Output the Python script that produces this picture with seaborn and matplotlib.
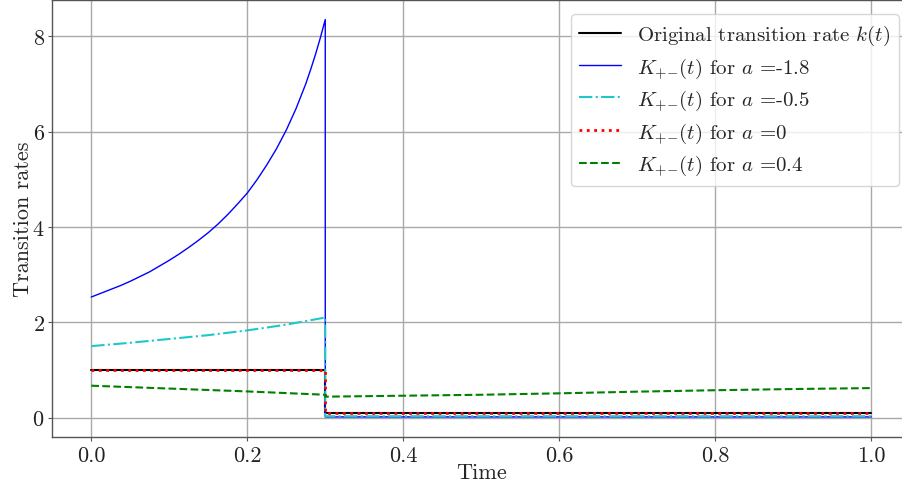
import matplotlib
matplotlib.use("Agg")
import matplotlib.pyplot as plt
import seaborn as sns

sns.set_style("whitegrid")
plt.rcParams.update({
    "font.family": "serif",
    "font.serif": ["cmr10", "DejaVu Serif"],
    "mathtext.fontset": "cm",
    "axes.formatter.use_mathtext": True,
    "axes.unicode_minus": False,
    "grid.color": "#a9a9a9",
    "grid.linewidth": 1.0,
    "axes.edgecolor": "#555555",
    "axes.linewidth": 1.0,
    "xtick.bottom": True,
    "ytick.left": True,
    "xtick.major.size": 3,
    "ytick.major.size": 3,
    "xtick.color": "#555555",
    "ytick.color": "#555555",
    "xtick.labelcolor": "#222222",
    "ytick.labelcolor": "#222222",
})

# Original transition rate k(t)
t_k = [0.0, 0.3, 0.3, 1.0]
k_vals = [1.0, 1.0, 0.1, 0.1]

# K_{+-}(t) for a = -1.8
t_blue = [0.0, 0.0125, 0.025, 0.0375, 0.05, 0.0625, 0.075, 0.0875, 0.1,
          0.1125, 0.125, 0.1375, 0.15, 0.1625, 0.175, 0.1875, 0.2, 0.2125,
          0.225, 0.2375, 0.25, 0.2625, 0.275, 0.28125, 0.2875, 0.29375,
          0.3, 0.3, 1.0]
blue_vals = [2.53, 2.61, 2.69, 2.77, 2.86, 2.96, 3.06, 3.18, 3.30,
             3.43, 3.57, 3.72, 3.88, 4.06, 4.26, 4.48, 4.71, 4.99,
             5.30, 5.64, 6.03, 6.48, 7.0, 7.30, 7.62, 7.97,
             8.35, 0.015, 0.015]

# K_{+-}(t) for a = -0.5
t_cyan = [0.0, 0.05, 0.1, 0.15, 0.2, 0.25, 0.3, 0.3, 1.0]
cyan_vals = [1.50, 1.57, 1.65, 1.73, 1.83, 1.95, 2.10, 0.03, 0.03]

# K_{+-}(t) for a = 0
t_red = [0.0, 0.3, 0.3, 1.0]
red_vals = [1.0, 1.0, 0.1, 0.1]

# K_{+-}(t) for a = 0.4
t_green = [0.0, 0.05, 0.1, 0.15, 0.2, 0.25, 0.3, 0.3, 0.4, 0.5, 0.6,
           0.7, 0.8, 0.9, 1.0]
green_vals = [0.67, 0.64, 0.61, 0.58, 0.55, 0.515, 0.48, 0.44, 0.46,
              0.48, 0.51, 0.545, 0.575, 0.60, 0.62]

labels = [r"Original transition rate $k(t)$",
          r"$K_{{+}{-}}(t)$ for $a$ =-1.8",
          r"$K_{{+}{-}}(t)$ for $a$ =-0.5",
          r"$K_{{+}{-}}(t)$ for $a$ =0",
          r"$K_{{+}{-}}(t)$ for $a$ =0.4"]

fig = plt.figure(figsize=(9.03, 4.89), dpi=100)
ax = fig.add_axes([0.0579, 0.1047, 0.9501, 0.894])

sns.lineplot(x=t_k, y=k_vals, ax=ax, color="black", linewidth=1.5,
             linestyle="-", label=labels[0], sort=False, estimator=None)
sns.lineplot(x=t_blue, y=blue_vals, ax=ax, color="blue", linewidth=1.0,
             linestyle="-", label=labels[1], sort=False, estimator=None)
sns.lineplot(x=t_cyan, y=cyan_vals, ax=ax, color="#1fc8c8", linewidth=1.5,
             linestyle="-.", label=labels[2], sort=False, estimator=None)
sns.lineplot(x=t_red, y=red_vals, ax=ax, color="red", linewidth=2.0,
             linestyle=":", label=labels[3], sort=False, estimator=None)
sns.lineplot(x=t_green, y=green_vals, ax=ax, color="green", linewidth=1.5,
             linestyle="--", label=labels[4], sort=False, estimator=None)

ax.set_xlim(-0.05, 1.05)
ax.set_xticks([0.0, 0.2, 0.4, 0.6, 0.8, 1.0])
ax.set_xticklabels(["0.0", "0.2", "0.4", "0.6", "0.8", "1.0"])
ax.set_yticks([0, 2, 4, 6, 8])
ax.tick_params(labelsize=16)
ax.tick_params(axis="y", pad=2.5)
ax.set_xlabel("Time", fontsize=16)
ax.set_ylabel("Transition rates", fontsize=16)
ax.xaxis.set_label_coords(0.5, -0.058)
ax.yaxis.set_label_coords(-0.022, 0.5)

leg = ax.legend(loc="upper right", fontsize=15, frameon=True,
                labelspacing=0.38, bbox_to_anchor=(0.999, 0.99))
leg.get_frame().set_edgecolor("#cccccc")

fig.savefig("out.png", dpi=100)
